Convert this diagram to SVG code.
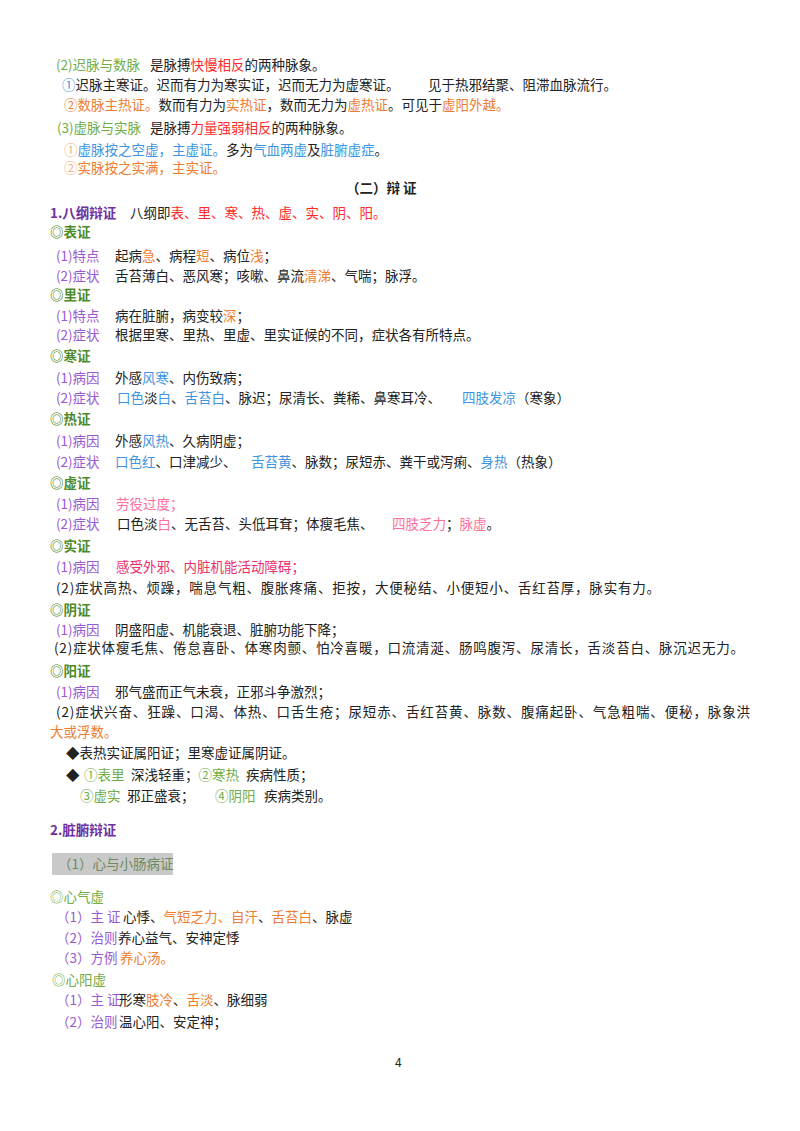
<svg xmlns="http://www.w3.org/2000/svg" width="800" height="1131" viewBox="0 0 800 1131">
<style>
text{font-family:"Noto Sans CJK SC","Noto Sans",sans-serif;font-size:13.5px;fill:#222}
.g{fill:#70ad47}.p{fill:#9b59d0}.r{fill:#ff2a2a}.o{fill:#ed7d31}.b{fill:#3d94e0}.k{fill:#ff6f9c}.m{fill:#ee2f6a}
.h{fill:#4e8a2a;font-weight:bold}.t{fill:#7030a0;font-weight:bold}
.ol{fill:#f4b183}
</style>
<rect width="800" height="1131" fill="#fff"/>
<g id="pulse">
<text x="56" y="70"><tspan class="g">(2)迟脉与数脉</tspan><tspan x="150">是脉搏</tspan><tspan class="r">快慢相反</tspan>的两种脉象。</text>
<text x="62" y="90"><tspan class="b">①</tspan>迟脉主寒证。迟而有力为寒实证，迟而无力为虚寒证。<tspan x="428">见于热邪结聚、阻滞血脉流行。</tspan></text>
<text x="64" y="110"><tspan class="o">②数脉主热证。</tspan>数而有力为<tspan class="o">实热证</tspan>，数而无力为<tspan class="o">虚热证</tspan>。可见于<tspan class="o">虚阳外越。</tspan></text>
<text x="57" y="133"><tspan class="g">(3)虚脉与实脉</tspan><tspan x="150">是脉搏</tspan><tspan class="r">力量强弱相反</tspan>的两种脉象。</text>
<text x="64" y="155"><tspan class="ol">①</tspan><tspan class="b">虚脉按之空虚，主虚证。</tspan>多为<tspan class="b">气血两虚</tspan>及<tspan class="b">脏腑虚症</tspan>。</text>
<text x="64" y="173" class="o"><tspan class="ol">②</tspan>实脉按之实满，主实证。</text>
<text x="346" y="193" style="font-weight:bold">（二）辩 证</text>
</g>
<g id="bagang">
<text x="50" y="218"><tspan class="t">1.八纲辩证</tspan><tspan x="130">八纲即</tspan><tspan class="r">表、里、寒、热、虚、实、阴、阳。</tspan></text>
<text x="50" y="237" class="h">◎表证</text>
<text x="56" y="261"><tspan class="p">(1)特点</tspan><tspan x="115">起病</tspan><tspan class="o">急</tspan>、病程<tspan class="o">短</tspan>、病位<tspan class="o">浅</tspan>；</text>
<text x="56" y="281"><tspan class="p">(2)症状</tspan><tspan x="115">舌苔薄白、恶风寒；咳嗽、鼻流</tspan><tspan class="o">清涕</tspan>、气喘；脉浮。</text>
<text x="50" y="300" class="h">◎里证</text>
<text x="56" y="321"><tspan class="p">(1)特点</tspan><tspan x="115">病在脏腑，病变较</tspan><tspan class="o">深</tspan>；</text>
<text x="56" y="340"><tspan class="p">(2)症状</tspan><tspan x="115">根据里寒、里热、里虚、里实证候的不同，症状各有所特点。</tspan></text>
<text x="50" y="361" class="h">◎寒证</text>
<text x="56" y="383"><tspan class="p">(1)病因</tspan><tspan x="115">外感</tspan><tspan class="b">风寒</tspan>、内伤致病；</text>
<text x="56" y="403"><tspan class="p">(2)症状</tspan><tspan x="117" class="b">口色</tspan>淡<tspan class="b">白</tspan>、<tspan class="b">舌苔白</tspan>、脉迟；尿清长、粪稀、鼻寒耳冷、<tspan x="462" class="b">四肢发凉</tspan>（寒象）</text>
<text x="50" y="424" class="h">◎热证</text>
<text x="56" y="446"><tspan class="p">(1)病因</tspan><tspan x="115">外感</tspan><tspan class="b">风热</tspan>、久病阴虚；</text>
<text x="56" y="467"><tspan class="p">(2)症状</tspan><tspan x="115" class="b">口色红</tspan>、口津减少、<tspan x="251" class="b">舌苔黄</tspan>、脉数；尿短赤、粪干或泻痢、<tspan class="b">身热</tspan>（热象）</text>
<text x="50" y="488" class="h">◎虚证</text>
<text x="56" y="509"><tspan class="p">(1)病因</tspan><tspan x="116" class="k">劳役过度；</tspan></text>
<text x="56" y="529"><tspan class="p">(2)症状</tspan><tspan x="117">口色淡</tspan><tspan class="k">白</tspan>、无舌苔、头低耳耷；体瘦毛焦、<tspan x="392" class="k">四肢乏力</tspan>；<tspan class="k">脉虚</tspan>。</text>
<text x="50" y="551" class="h">◎实证</text>
<text x="56" y="572"><tspan class="p">(1)病因</tspan><tspan x="116" class="m">感受外邪、内脏机能活动障碍；</tspan></text>
<text x="56" y="593" textLength="604">(2)症状高热、烦躁，喘息气粗、腹胀疼痛、拒按，大便秘结、小便短小、舌红苔厚，脉实有力。</text>
<text x="50" y="615" class="h">◎阴证</text>
<text x="56" y="635"><tspan class="p">(1)病因</tspan><tspan x="115">阴盛阳虚、机能衰退、脏腑功能下降；</tspan></text>
<text x="54" y="653" textLength="690">(2)症状体瘦毛焦、倦怠喜卧、体寒肉颤、怕冷喜暖，口流清涎、肠鸣腹泻、尿清长，舌淡苔白、脉沉迟无力。</text>
<text x="50" y="676" class="h">◎阳证</text>
<text x="56" y="697"><tspan class="p">(1)病因</tspan><tspan x="115">邪气盛而正气未衰，正邪斗争激烈；</tspan></text>
<text x="56" y="717" textLength="694">(2)症状兴奋、狂躁、口渴、体热、口舌生疮；尿短赤、舌红苔黄、脉数、腹痛起卧、气急粗喘、便秘，脉象洪</text>
<text x="50" y="737" class="o">大或浮数。</text>
<text x="66" y="758">◆表热实证属阳证；里寒虚证属阴证。</text>
<text x="66" y="780">◆ <tspan x="84" class="g">①表里</tspan><tspan x="131">深浅轻重；</tspan><tspan class="g">②寒热</tspan><tspan x="246">疾病性质；</tspan></text>
<text x="80" y="801"><tspan class="g">③虚实</tspan><tspan x="127">邪正盛衰；</tspan><tspan x="215" class="g">④阴阳</tspan><tspan x="264">疾病类别。</tspan></text>
</g>
<g id="zangfu">
<text x="50" y="835" class="t">2.脏腑辩证</text>
<rect x="52" y="853" width="121" height="22" fill="#c9c9c9"/>
<text x="58" y="869" style="fill:#6d8a5e">（1）心与小肠病证</text>
<text x="50" y="902" class="g">◎心气虚</text>
<text x="56" y="922"><tspan class="p">（1）主 证</tspan><tspan x="123">心悸、</tspan><tspan class="o">气短乏力、自汗</tspan>、<tspan class="o">舌苔白</tspan>、脉虚</text>
<text x="56" y="943"><tspan class="p">（2）治则</tspan><tspan x="118">养心益气、安神定悸</tspan></text>
<text x="56" y="963"><tspan class="p">（3）方例</tspan><tspan x="120" class="o">养心汤。</tspan></text>
<text x="52" y="985" class="g">◎心阳虚</text>
<text x="56" y="1005"><tspan class="p">（1）主 证</tspan><tspan x="119">形寒</tspan><tspan class="o">肢冷</tspan>、<tspan class="o">舌淡</tspan>、脉细弱</text>
<text x="56" y="1027"><tspan class="p">（2）治则</tspan><tspan x="119">温心阳、安定神；</tspan></text>
<text x="395" y="1067" style="font-size:12px">4</text>
</g>
</svg>
